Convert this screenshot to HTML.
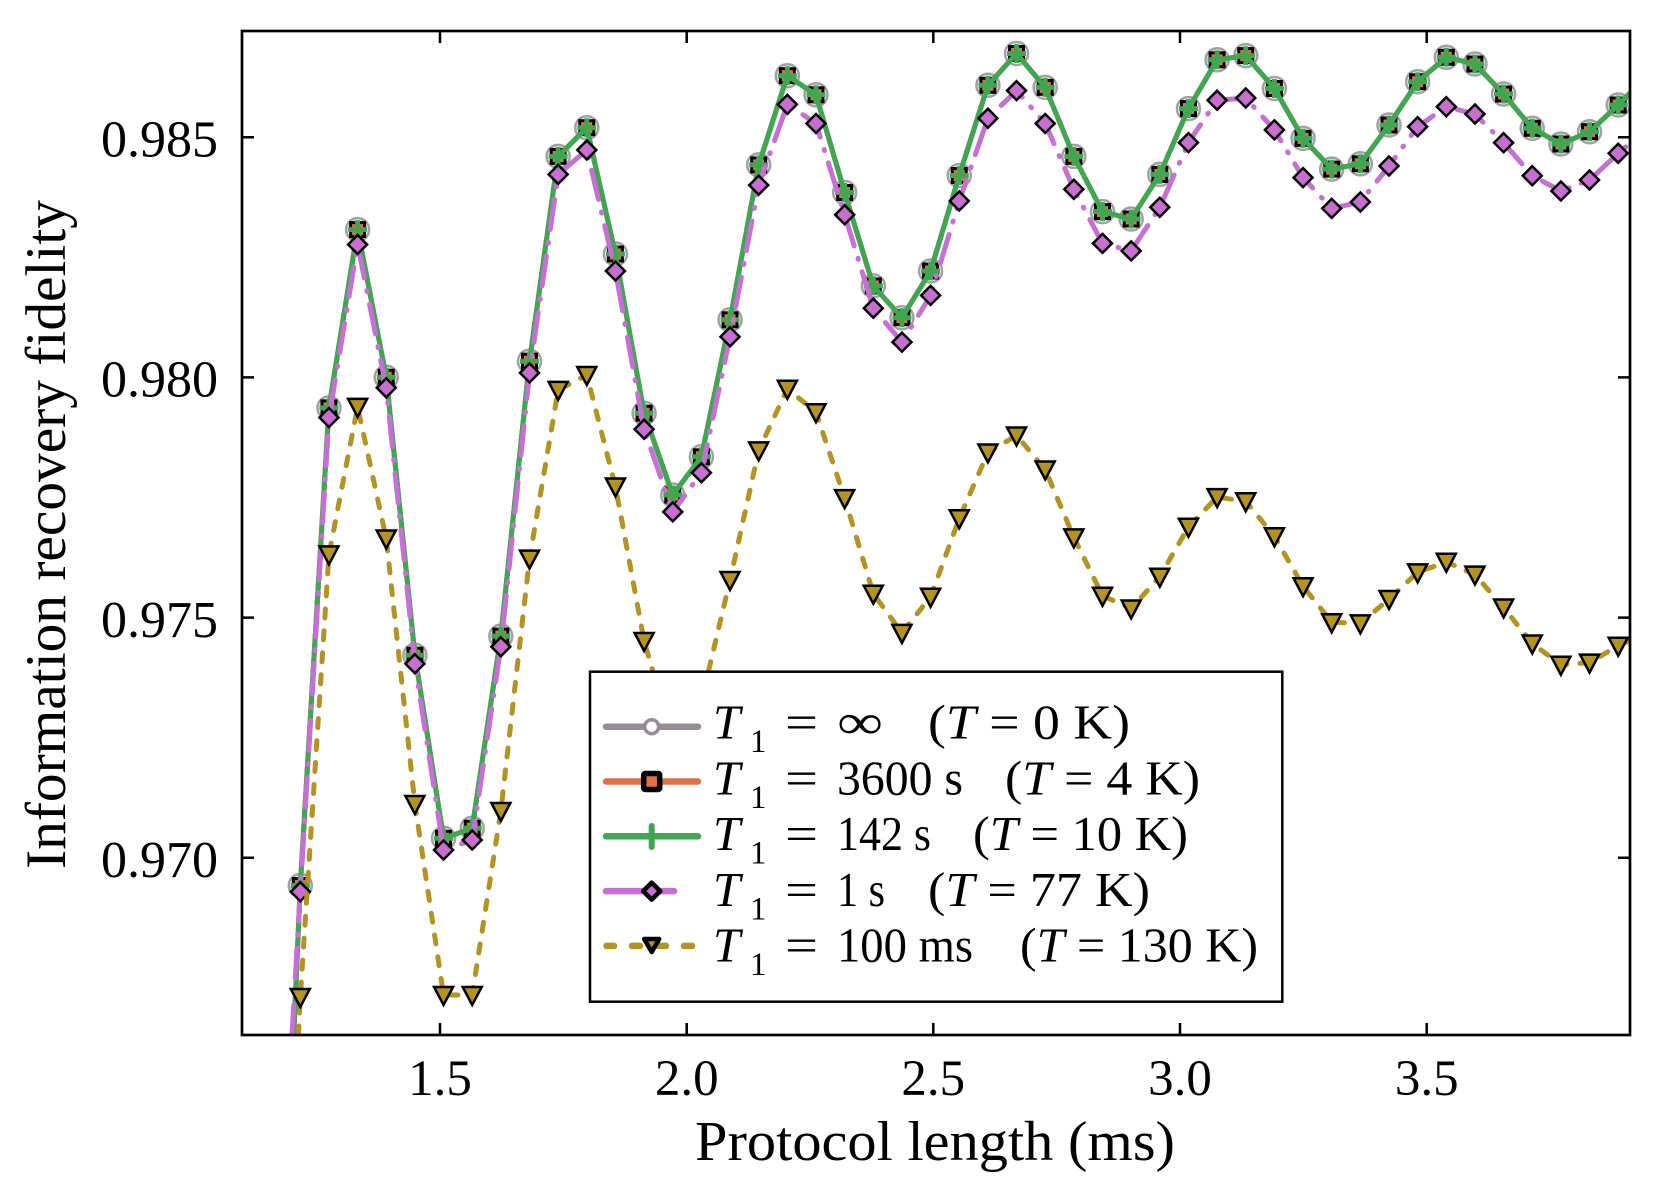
<!DOCTYPE html>
<html>
<head>
<meta charset="utf-8">
<style>
html,body{margin:0;padding:0;background:#fff;width:1661px;height:1186px;overflow:hidden;}
svg{display:block;}
text{font-family:"Liberation Serif","DejaVu Serif",serif;fill:#000;}
</style>
</head>
<body>
<svg width="1661" height="1186" viewBox="0 0 1661 1186" xmlns="http://www.w3.org/2000/svg" style="overflow:hidden">
<defs>
  <clipPath id="clip"><rect x="242" y="31" width="1388" height="1004"/></clipPath>
  <marker id="mCirc" markerUnits="userSpaceOnUse" markerWidth="1" markerHeight="1" refX="0" refY="0" orient="0" overflow="visible">
    <circle cx="0" cy="0" r="11.5" fill="#fff" stroke="#a39fa3" stroke-width="2.5"/>
  </marker>
  <marker id="mSq" markerUnits="userSpaceOnUse" markerWidth="1" markerHeight="1" refX="0" refY="0" orient="0" overflow="visible">
    <rect x="-7" y="-7" width="14" height="14" fill="#e07048" stroke="#000" stroke-width="3"/>
  </marker>
  <marker id="mPlus" markerUnits="userSpaceOnUse" markerWidth="1" markerHeight="1" refX="0" refY="0" orient="0" overflow="visible">
    <path d="M-9.5 0H9.5M0 -9.5V9.5" stroke="#3fa652" stroke-width="5"/>
  </marker>
  <marker id="mDia" markerUnits="userSpaceOnUse" markerWidth="1" markerHeight="1" refX="0" refY="0" orient="0" overflow="visible">
    <polygon points="0,-9.5 9.5,0 0,9.5 -9.5,0" fill="#c66fd0" stroke="#000" stroke-width="2.5"/>
  </marker>
  <marker id="mTri" markerUnits="userSpaceOnUse" markerWidth="1" markerHeight="1" refX="0" refY="0" orient="0" overflow="visible">
    <polygon points="-9.5,-8 9.5,-8 0,10" fill="#b39322" stroke="#000" stroke-width="2.5"/>
  </marker>
</defs>

<rect x="0" y="0" width="1661" height="1186" fill="#fff"/>

<g clip-path="url(#clip)" fill="none" stroke-linejoin="round">
  <polyline stroke="#968e96" stroke-width="5" marker-mid="url(#mCirc)"
    points="293.72,1035 300.3,885.5 328.95,407.9 357.6,229.6 386.25,377.2 414.9,655.2 443.55,838.3 472.2,828.3 500.85,636.1 529.5,361.2 558.15,156.4 586.8,127.7 615.45,254 644.1,413.2 672.75,495 701.4,456.8 730.05,319.8 758.7,164.9 787.35,75.7 816,94.8 844.65,192.5 873.3,285.9 901.95,317.7 930.6,271 959.25,175.5 987.9,85.3 1016.55,53.5 1045.2,87.4 1073.85,156.4 1102.5,211.6 1131.15,219 1159.8,174.4 1188.45,108.6 1217.1,59.8 1245.75,55.6 1274.4,88.5 1303.05,138.4 1331.7,169.1 1360.35,163.8 1389,125 1417.65,81.7 1446.3,57.3 1474.95,64 1503.6,94 1532.25,128.3 1560.9,144 1589.55,131.7 1618.2,105 1630,93.05"/>
  <polyline stroke="#e07048" stroke-width="5" marker-mid="url(#mSq)"
    points="293.72,1035 300.3,885.5 328.95,407.9 357.6,229.6 386.25,377.2 414.9,655.2 443.55,838.3 472.2,828.3 500.85,636.1 529.5,361.2 558.15,156.4 586.8,127.7 615.45,254 644.1,413.2 672.75,495 701.4,456.8 730.05,319.8 758.7,164.9 787.35,75.7 816,94.8 844.65,192.5 873.3,285.9 901.95,317.7 930.6,271 959.25,175.5 987.9,85.3 1016.55,53.5 1045.2,87.4 1073.85,156.4 1102.5,211.6 1131.15,219 1159.8,174.4 1188.45,108.6 1217.1,59.8 1245.75,55.6 1274.4,88.5 1303.05,138.4 1331.7,169.1 1360.35,163.8 1389,125 1417.65,81.7 1446.3,57.3 1474.95,64 1503.6,94 1532.25,128.3 1560.9,144 1589.55,131.7 1618.2,105 1630,93.05"/>
  <polyline stroke="#3fa652" stroke-width="5" marker-mid="url(#mPlus)"
    points="293.72,1035 300.3,885.5 328.95,407.9 357.6,229.6 386.25,377.2 414.9,655.2 443.55,838.3 472.2,828.3 500.85,636.1 529.5,361.2 558.15,156.4 586.8,127.7 615.45,254 644.1,413.2 672.75,495 701.4,456.8 730.05,319.8 758.7,164.9 787.35,75.7 816,94.8 844.65,192.5 873.3,285.9 901.95,317.7 930.6,271 959.25,175.5 987.9,85.3 1016.55,53.5 1045.2,87.4 1073.85,156.4 1102.5,211.6 1131.15,219 1159.8,174.4 1188.45,108.6 1217.1,59.8 1245.75,55.6 1274.4,88.5 1303.05,138.4 1331.7,169.1 1360.35,163.8 1389,125 1417.65,81.7 1446.3,57.3 1474.95,64 1503.6,94 1532.25,128.3 1560.9,144 1589.55,131.7 1618.2,105 1630,93.05"/>
  <polyline stroke="#c66fd4" stroke-width="5" stroke-linecap="round" stroke-dasharray="30 13 1 13" marker-mid="url(#mDia)"
    points="291.99,1035 300.3,891.7 328.95,417.5 357.6,244.5 386.25,387.8 414.9,663.7 443.55,850 472.2,840 500.85,646.7 529.5,372.9 558.15,174.4 586.8,150 615.45,271 644.1,429.2 672.75,511.9 701.4,472.7 730.05,336.8 758.7,185.1 787.35,104.4 816,123.5 844.65,214.8 873.3,308.2 901.95,342.1 930.6,295.4 959.25,201 987.9,118.2 1016.55,90.6 1045.2,123.5 1073.85,189.3 1102.5,243.4 1131.15,250.9 1159.8,207.3 1188.45,142.6 1217.1,100.2 1245.75,98 1274.4,129.9 1303.05,177.6 1331.7,208.4 1360.35,202 1389,166 1417.65,126.7 1446.3,106.7 1474.95,114 1503.6,142.7 1532.25,175.7 1560.9,191 1589.55,180 1618.2,153.3 1630,143.2"/>
  <polyline stroke="#b39322" stroke-width="5" stroke-linecap="round" stroke-dasharray="9 13" marker-mid="url(#mTri)"
    points="298.5,1035 300.3,997 328.95,554.4 357.6,406.9 386.25,538.5 414.9,804 443.55,995 472.2,995 500.85,811 529.5,558.6 558.15,389.9 586.8,375 615.45,486.5 644.1,641 672.75,740 701.4,701 730.05,580 758.7,450.4 787.35,388.8 816,412.2 844.65,498.1 873.3,593.7 901.95,632.9 930.6,596.8 959.25,518.3 987.9,452.5 1016.55,435.5 1045.2,469.5 1073.85,537.4 1102.5,595.8 1131.15,608.5 1159.8,576.7 1188.45,526.8 1217.1,497.1 1245.75,501.3 1274.4,536.3 1303.05,586.2 1331.7,622.3 1360.35,623.4 1389,599 1417.65,572.4 1446.3,561.8 1474.95,574.6 1503.6,607.5 1532.25,643.5 1560.9,664.8 1589.55,662.6 1618.2,645.7 1630,640.4"/>
</g>

<rect x="242" y="31" width="1388" height="1004" fill="none" stroke="#000" stroke-width="2.7"/>

<g stroke="#000" stroke-width="2.5">
  <path d="M440 1035V1023M686.7 1035V1023M933.3 1035V1023M1180 1035V1023M1426.7 1035V1023"/>
  <path d="M440 31V43M686.7 31V43M933.3 31V43M1180 31V43M1426.7 31V43"/>
  <path d="M242 137.3H254M242 377.4H254M242 617.6H254M242 857.7H254"/>
  <path d="M1630 137.3H1618M1630 377.4H1618M1630 617.6H1618M1630 857.7H1618"/>
</g>

<g font-size="51" text-anchor="middle">
  <text x="440" y="1095">1.5</text>
  <text x="686.7" y="1095">2.0</text>
  <text x="933.3" y="1095">2.5</text>
  <text x="1180" y="1095">3.0</text>
  <text x="1426.7" y="1095">3.5</text>
</g>
<g font-size="52" text-anchor="end">
  <text x="218" y="156.5">0.985</text>
  <text x="218" y="396.6">0.980</text>
  <text x="218" y="636.8">0.975</text>
  <text x="218" y="876.9">0.970</text>
</g>

<text x="935" y="1160" font-size="56" text-anchor="middle" textLength="480" lengthAdjust="spacingAndGlyphs">Protocol length (ms)</text>
<text transform="translate(65,534.5) rotate(-90)" font-size="57" text-anchor="middle" textLength="669" lengthAdjust="spacingAndGlyphs">Information recovery fidelity</text>

<rect x="590" y="671.7" width="692.3" height="330" fill="#fff" stroke="#000" stroke-width="2.5"/>
<g stroke-linecap="round">
  <line x1="606" y1="726.7" x2="698" y2="726.7" stroke="#968c96" stroke-width="6.5"/>
  <circle cx="651.7" cy="726.7" r="7" fill="#fff" stroke="#968c96" stroke-width="3.5"/>
  <line x1="606" y1="781.5" x2="698" y2="781.5" stroke="#e07048" stroke-width="6.5"/>
  <rect x="643.7" y="773.5" width="16" height="16" rx="1.5" fill="#e07048" stroke="#000" stroke-width="5.5"/>
  <line x1="606" y1="836.3" x2="698" y2="836.3" stroke="#3fa652" stroke-width="6.5"/>
  <line x1="651.7" y1="826" x2="651.7" y2="847" stroke="#3fa652" stroke-width="6"/>
  <line x1="606" y1="891.1" x2="674" y2="891.1" stroke="#c66fd4" stroke-width="6.5"/>
  <polygon points="651.7,882.6 660.2,891.1 651.7,899.6 643.2,891.1" fill="#c66fd0" stroke="#000" stroke-width="4.5" stroke-linejoin="round"/>
  <g stroke="#b39322" stroke-width="6.5">
    <line x1="606.5" y1="945.9" x2="614" y2="945.9"/>
    <line x1="632" y1="945.9" x2="640" y2="945.9"/>
    <line x1="658" y1="945.9" x2="666" y2="945.9"/>
    <line x1="684" y1="945.9" x2="692" y2="945.9"/>
  </g>
  <polygon points="644.2,939 659.2,939 651.7,952" fill="#b39322" stroke="#000" stroke-width="4.5" stroke-linejoin="round"/>
</g>

<g font-size="49">
  <text x="713" y="738.5" font-style="italic">T</text>
  <text x="750" y="752" font-size="33">1</text>
  <text x="785" y="738.5" textLength="33" lengthAdjust="spacingAndGlyphs">=</text>
  <text x="837" y="738.5" textLength="46" lengthAdjust="spacingAndGlyphs">∞</text>
  <text x="928" y="738.5" textLength="202" lengthAdjust="spacingAndGlyphs">(<tspan font-style="italic">T</tspan> = 0 K)</text>

  <text x="713" y="794.3" font-style="italic">T</text>
  <text x="750" y="807.8" font-size="33">1</text>
  <text x="785" y="794.3" textLength="33" lengthAdjust="spacingAndGlyphs">=</text>
  <text x="837" y="794.3" textLength="126" lengthAdjust="spacingAndGlyphs">3600 s</text>
  <text x="1005" y="794.3" textLength="195" lengthAdjust="spacingAndGlyphs">(<tspan font-style="italic">T</tspan> = 4 K)</text>

  <text x="713" y="850.1" font-style="italic">T</text>
  <text x="750" y="863.6" font-size="33">1</text>
  <text x="785" y="850.1" textLength="33" lengthAdjust="spacingAndGlyphs">=</text>
  <text x="837" y="850.1" textLength="94" lengthAdjust="spacingAndGlyphs">142 s</text>
  <text x="973" y="850.1" textLength="215" lengthAdjust="spacingAndGlyphs">(<tspan font-style="italic">T</tspan> = 10 K)</text>

  <text x="713" y="905.9" font-style="italic">T</text>
  <text x="750" y="919.4" font-size="33">1</text>
  <text x="785" y="905.9" textLength="33" lengthAdjust="spacingAndGlyphs">=</text>
  <text x="837" y="905.9" textLength="48" lengthAdjust="spacingAndGlyphs">1 s</text>
  <text x="928" y="905.9" textLength="222" lengthAdjust="spacingAndGlyphs">(<tspan font-style="italic">T</tspan> = 77 K)</text>

  <text x="713" y="961.7" font-style="italic">T</text>
  <text x="750" y="975.2" font-size="33">1</text>
  <text x="785" y="961.7" textLength="33" lengthAdjust="spacingAndGlyphs">=</text>
  <text x="837" y="961.7" textLength="136" lengthAdjust="spacingAndGlyphs">100 ms</text>
  <text x="1020" y="961.7" textLength="238" lengthAdjust="spacingAndGlyphs">(<tspan font-style="italic">T</tspan> = 130 K)</text>
</g>
</svg>
</body>
</html>
